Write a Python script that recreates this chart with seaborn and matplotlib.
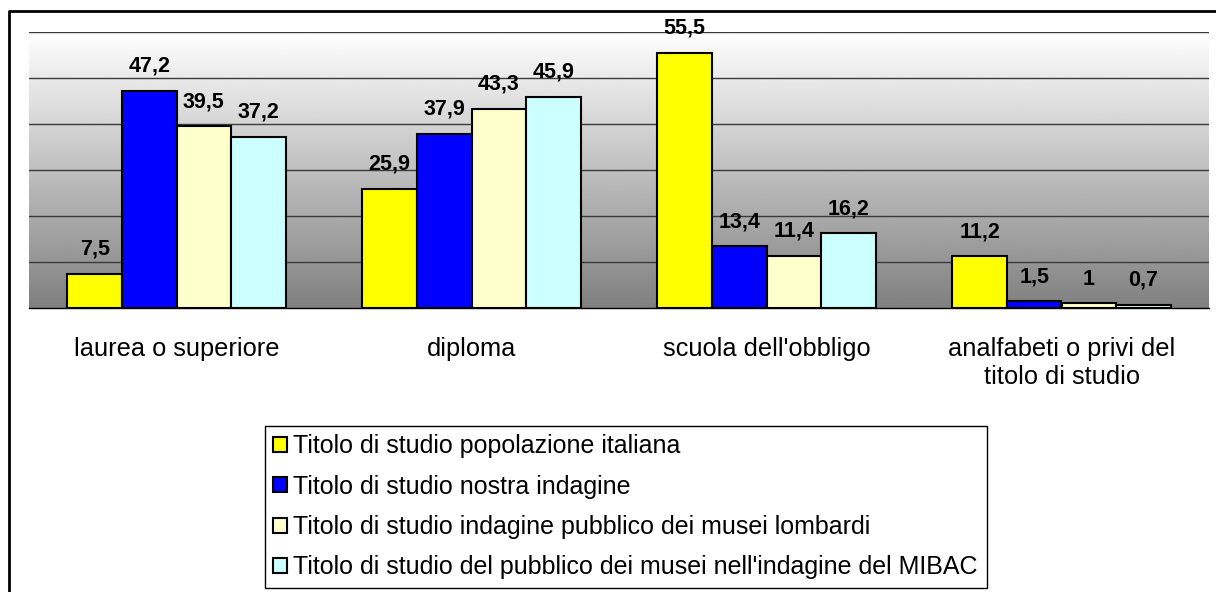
import numpy as np
import pandas as pd
import matplotlib
matplotlib.use("Agg")
import matplotlib.pyplot as plt
from matplotlib.lines import Line2D
import seaborn as sns

categories = ["laurea o superiore", "diploma", "scuola dell'obbligo",
              "analfabeti o privi del\ntitolo di studio"]
series = ["Titolo di studio popolazione italiana",
          "Titolo di studio nostra indagine",
          "Titolo di studio indagine pubblico dei musei lombardi",
          "Titolo di studio del pubblico dei musei nell'indagine del MIBAC"]
pop_italiana = [7.5, 25.9, 55.5, 11.2]
nostra_indagine = [47.2, 37.9, 13.4, 1.5]
musei_lombardi = [39.5, 43.3, 11.4, 1.0]
musei_mibac = [37.2, 45.9, 16.2, 0.7]
colors = ["#FFFF00", "#0000FF", "#FFFFCC", "#CCFFFF"]

sns.set_theme(style="white")
plt.rcParams['font.family'] = ['Liberation Sans', 'DejaVu Sans']
plt.rcParams['text.color'] = 'black'
plt.rcParams['xtick.color'] = 'black'
plt.rcParams['xtick.labelcolor'] = 'black'

rows = []
for name, vals in zip(series, [pop_italiana, nostra_indagine, musei_lombardi, musei_mibac]):
    for cat, v in zip(categories, vals):
        rows.append({"categoria": cat, "serie": name, "valore": v})
df = pd.DataFrame(rows)

fig = plt.figure(figsize=(12.16, 5.92), dpi=100)
ax = fig.add_axes([29 / 1216, 1 - 308 / 592, 1180 / 1216, 276 / 592])

# grey gradient background of the plot area
grad = np.linspace(0.5, 1.0, 256).reshape(-1, 1)
ax.imshow(grad, extent=[-0.5, 3.5, 0, 60], aspect="auto", cmap="gray",
          vmin=0, vmax=1, origin="lower", zorder=0)

sns.barplot(data=df, x="categoria", y="valore", hue="serie", order=categories,
            hue_order=series, palette=colors, width=0.74, gap=0,
            edgecolor="black", linewidth=1.5, saturation=1, ax=ax, zorder=3)

for cont, vals in zip(ax.containers, [pop_italiana, nostra_indagine, musei_lombardi, musei_mibac]):
    ax.bar_label(cont, labels=[f"{v:g}".replace(".", ",") for v in vals],
                 padding=10, fontsize=15.5, fontweight="bold", color="black")

ax.set_xlim(-0.5, 3.5)
ax.set_ylim(0, 60)
ax.set_yticks(np.arange(10, 61, 10))
ax.yaxis.grid(True, color="#3a3a3a", linewidth=1.0, zorder=1)
ax.set_axisbelow(False)
for gl in ax.get_ygridlines():
    gl.set_zorder(1)
ax.tick_params(axis="y", left=False, labelleft=False)
ax.set_xticks(range(4))
ax.set_xticklabels(categories, fontsize=18.3, color="black")
ax.set_xticks(np.arange(-0.5, 3.6, 1), minor=True)
ax.tick_params(axis="x", which="major", length=0, pad=21)
ax.tick_params(axis="x", which="minor", length=8, width=1, color="black", direction="out")
ax.set_xlabel("")
ax.set_ylabel("")
for s in ["top", "right", "left"]:
    ax.spines[s].set_visible(False)
ax.spines["bottom"].set_color("black")
ax.spines["bottom"].set_linewidth(1)

handles, labels = ax.get_legend_handles_labels()
ax.get_legend().remove()
leg = fig.legend(handles, labels, loc="lower center", bbox_to_anchor=(625.5 / 1216, 4 / 592),
                 borderaxespad=0, fontsize=18, frameon=True, fancybox=False, framealpha=1,
                 edgecolor="black", handlelength=0.55, handleheight=0.55,
                 handletextpad=0.25, labelspacing=0.65, borderpad=0.35,
                 labelcolor="black")
leg.get_frame().set_linewidth(1)

# outer frame (top and left edges only)
fig.add_artist(Line2D([9 / 1216, 9 / 1216, 1.0], [0.0, 1 - 11 / 592, 1 - 11 / 592],
                      transform=fig.transFigure, color="black", linewidth=2))

fig.savefig("out.png", dpi=100)
